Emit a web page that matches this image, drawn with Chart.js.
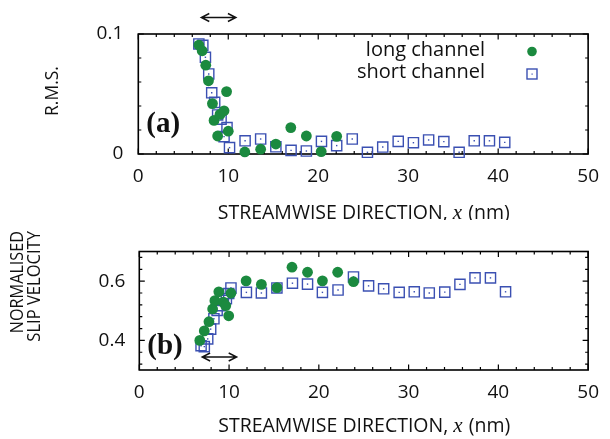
<!DOCTYPE html>
<html><head><meta charset="utf-8">
<script src="https://cdn.jsdelivr.net/npm/chart.js@4.4.1/dist/chart.umd.min.js"></script>
<style>
html,body{margin:0;padding:0;background:#fff;}
#wrap{position:relative;width:610px;height:439px;overflow:hidden;}
.pane{position:absolute;left:0;width:610px;}
canvas{display:block;}
</style></head><body>
<div id="wrap">
<div class="pane" style="top:0;height:220px"><canvas id="ca" width="610" height="220"></canvas></div>
<div class="pane" style="top:220px;height:219px"><canvas id="cb" width="610" height="219"></canvas></div>
</div>
<script>
// ---------- DATA ----------
const seriesNames = ['long channel', 'short channel'];
const xTickLabels = [0, 10, 20, 30, 40, 50];
const rmsTickLabels = [0, 0.1];
const slipTickLabels = [0.4, 0.6];
const arrowSpan = [7.0, 10.85];

// panel (a): R.M.S.
const longX_a  = [6.73, 7.10, 7.50, 7.80, 8.24, 8.42, 8.82, 9.08, 9.53, 9.81, 10.0, 11.84, 13.6, 15.29, 16.95, 18.68, 20.33, 22.05];
const longRms  = [0.0908, 0.086, 0.074, 0.061, 0.042, 0.028, 0.015, 0.033, 0.036, 0.052, 0.019, 0.0017, 0.004, 0.0083, 0.022, 0.015, 0.002, 0.0147];
const shortX_a = [6.73, 7.17, 7.46, 7.83, 8.16, 8.49, 8.82, 9.20, 9.53, 9.86, 10.14, 11.87, 13.6, 15.29, 16.98, 18.68, 20.36, 22.05, 23.78, 25.47, 27.17, 28.89, 30.58, 32.27, 33.96, 35.66, 37.34, 39.03, 40.73];
const shortRms = [0.0917, 0.0906, 0.0806, 0.0667, 0.051, 0.043, 0.0325, 0.029, 0.0145, 0.022, 0.0053, 0.011, 0.0125, 0.006, 0.003, 0.0025, 0.0105, 0.007, 0.0125, 0.0014, 0.0058, 0.0105, 0.0094, 0.0117, 0.0103, 0.0014, 0.011, 0.011, 0.0097];

// panel (b): normalised slip velocity
const longX_b   = [6.74, 7.24, 7.76, 8.17, 8.42, 8.86, 9.37, 9.63, 9.96, 10.21, 11.9, 13.6, 15.33, 17.01, 18.74, 20.4, 22.1, 23.86];
const longSlip  = [0.400, 0.432, 0.463, 0.506, 0.534, 0.564, 0.529, 0.517, 0.483, 0.559, 0.601, 0.589, 0.578, 0.647, 0.630, 0.601, 0.630, 0.598];
const shortX_b  = [6.88, 7.24, 7.62, 7.95, 8.31, 8.67, 9.05, 9.37, 9.70, 9.96, 10.21, 11.93, 13.6, 15.33, 17.06, 18.74, 20.4, 22.14, 23.86, 25.54, 27.22, 28.95, 30.63, 32.3, 34.03, 35.72, 37.4, 39.12, 40.8];
const shortSlip = [0.382, 0.379, 0.405, 0.438, 0.473, 0.501, 0.517, 0.535, 0.541, 0.558, 0.577, 0.562, 0.560, 0.577, 0.593, 0.590, 0.562, 0.570, 0.614, 0.584, 0.574, 0.562, 0.564, 0.560, 0.563, 0.589, 0.611, 0.611, 0.564];

// ---------- STYLE ----------
const GREEN = '#1b8a3f';
const BLUE = '#3b50b2';
const SANS = '"Open Sans", "Noto Sans", sans-serif';
const TICKFONT = {family: SANS, size: 19};

function pts(xs, ys){ return xs.map((x,i)=>({x:x, y:ys[i]})); }

function datasets(lx, ly, sx, sy){
  return [
    {label: seriesNames[0], data: pts(lx, ly), pointStyle:'circle', pointRadius:5.4, backgroundColor:GREEN, borderWidth:0, clip:false},
    {label: seriesNames[1], data: pts(sx, sy), pointStyle:'rect', pointRadius:7.2, backgroundColor:'rgba(0,0,0,0)', borderColor:BLUE, borderWidth:1.4, clip:false},
    {label: '_dot', data: pts(sx, sy), pointStyle:'rect', pointRadius:1.0, backgroundColor:BLUE, borderWidth:0, clip:false}
  ];
}

const framePlugin = {
  id: 'frame',
  beforeDatasetsDraw(chart, args, o){
    const {ctx, chartArea:a, scales:{x, y}} = chart;
    ctx.save();
    ctx.strokeStyle = '#000';
    ctx.lineWidth = 1.2;
    ctx.beginPath();
    for (let v = x.min; v <= x.max + 1e-9; v += o.xMinor){
      const px = x.getPixelForValue(v);
      const L = (Math.abs(v % 10) < 1e-6) ? 5.5 : 3;
      ctx.moveTo(px, a.bottom); ctx.lineTo(px, a.bottom - L);
      ctx.moveTo(px, a.top); ctx.lineTo(px, a.top + L);
    }
    for (let k = 0; ; k++){
      const v = o.yMinorStart + k*o.yMinor;
      if (v > y.max + 1e-9) break;
      const py = y.getPixelForValue(v);
      const major = o.yMajor.some(m => Math.abs(m - v) < 1e-6);
      const L = major ? 5.5 : 3;
      ctx.moveTo(a.left, py); ctx.lineTo(a.left + L, py);
      ctx.moveTo(a.right, py); ctx.lineTo(a.right - L, py);
    }
    ctx.stroke();
    ctx.lineWidth = 1.6;
    ctx.strokeRect(a.left, a.top, a.right - a.left, a.bottom - a.top);
    ctx.restore();
  }
};

function drawArrow(ctx, x1, x2, y){
  ctx.save();
  ctx.strokeStyle = '#111'; ctx.lineWidth = 1.4;
  ctx.beginPath();
  ctx.moveTo(x1, y); ctx.lineTo(x2, y);
  ctx.moveTo(x1 + 8, y - 4); ctx.lineTo(x1, y); ctx.lineTo(x1 + 8, y + 4);
  ctx.moveTo(x2 - 8, y - 4); ctx.lineTo(x2, y); ctx.lineTo(x2 - 8, y + 4);
  ctx.stroke();
  ctx.restore();
}

const textPlugin = {
  id: 'texts',
  afterDraw(chart, args, o){
    const {ctx, chartArea:a, scales:{x}} = chart;
    ctx.save();
    ctx.fillStyle = '#111';
    // x axis title with italic x
    const p1 = 'STREAMWISE DIRECTION, ', p2 = 'x', p3 = ' (nm)';
    const f1 = '19.5px ' + SANS, f2 = 'italic 21px "Liberation Serif", serif';
    ctx.font = f1; const w1 = ctx.measureText(p1).width, w3 = ctx.measureText(p3).width;
    ctx.font = f2; const w2 = ctx.measureText(p2).width;
    let sx = (a.left + a.right)/2 - (w1 + w2 + w3)/2;
    const ty = a.bottom + o.titleGap;
    ctx.textBaseline = 'alphabetic'; ctx.textAlign = 'left';
    ctx.font = f1; ctx.fillText(p1, sx, ty);
    ctx.font = f2; ctx.fillText(p2, sx + w1, ty);
    ctx.font = f1; ctx.fillText(p3, sx + w1 + w2 + 1, ty);
    // y title(s)
    ctx.font = '18px ' + SANS;
    ctx.textBaseline = 'middle';
    o.yTitle.forEach(t => {
      ctx.save();
      ctx.translate(t.x, t.y);
      ctx.rotate(-Math.PI/2);
      ctx.scale(t.sx, 1);
      ctx.textAlign = t.align;
      ctx.fillText(t.text, 0, 0);
      ctx.restore();
    });
    // panel label
    ctx.font = 'bold 29px "Liberation Serif", serif';
    ctx.textAlign = 'left'; ctx.textBaseline = 'middle';
    ctx.fillText(o.panel, a.left + 8, a.bottom - o.panelUp);
    // arrow
    drawArrow(ctx, x.getPixelForValue(arrowSpan[0]), x.getPixelForValue(arrowSpan[1]), o.arrowY(a));
    // legend
    if (o.legend){
      ctx.font = '20px ' + SANS;
      ctx.textAlign = 'right'; ctx.textBaseline = 'middle';
      ctx.fillStyle = '#111';
      ctx.fillText(seriesNames[0], 485, 50);
      ctx.fillText(seriesNames[1], 485, 72);
      ctx.fillStyle = GREEN;
      ctx.beginPath(); ctx.arc(532, 51.5, 4.8, 0, Math.PI*2); ctx.fill();
      ctx.strokeStyle = BLUE; ctx.lineWidth = 1.4;
      ctx.strokeRect(527, 69, 10, 10);
      ctx.fillStyle = BLUE; ctx.fillRect(531.5, 73.5, 1.2, 1.2);
    }
    ctx.restore();
  }
};

function makeChart(id, ds, cfg){
  return new Chart(document.getElementById(id), {
    type: 'scatter',
    data: {datasets: ds},
    plugins: [framePlugin, textPlugin],
    options: {
      responsive: false, animation: false, events: [],
      devicePixelRatio: 1,
      layout: {padding: cfg.padding},
      plugins: {
        legend: {display:false}, tooltip: {enabled:false},
        frame: cfg.frame, texts: cfg.texts
      },
      scales: {
        x: {
          type:'linear', min:0, max:50,
          grid:{display:false, drawTicks:false}, border:{display:false},
          afterBuildTicks: s => { s.ticks = xTickLabels.map(v => ({value:v})); },
          ticks:{font:TICKFONT, color:'#111', padding:cfg.xPad, maxRotation:0, callback: v => String(v)},
          afterFit: s => { s.height = cfg.xHeight; }
        },
        y: {
          type:'linear', min:cfg.ymin, max:cfg.ymax,
          grid:{display:false, drawTicks:false}, border:{display:false},
          afterBuildTicks: s => { s.ticks = cfg.yTicks.map(v => ({value:v})); },
          ticks:{font:TICKFONT, color:'#111', padding:cfg.yPad, callback: v => String(v)},
          afterFit: s => { s.width = cfg.yWidth; }
        }
      }
    }
  });
}

makeChart('ca', datasets(longX_a, longRms, shortX_a, shortRms), {
  padding: {left:0, top:34, right:18, bottom:0},
  xHeight: 66, yWidth: 138.3, xPad: 11, yPad: 15,
  ymin: 0, ymax: 0.1, yTicks: rmsTickLabels,
  frame: {xMinor: 2, yMinorStart: 0, yMinor: 0.02, yMajor: rmsTickLabels},
  texts: {titleGap: 65, panel: '(a)', panelUp: 29,
          arrowY: a => a.top - 16.5,
          yTitle: [{text:'R.M.S.', x:53, y:91, align:'center', sx:0.97}],
          legend: true}
});

makeChart('cb', datasets(longX_b, longSlip, shortX_b, shortSlip), {
  padding: {left:0, top:31.5, right:15, bottom:0},
  xHeight: 69, yWidth: 139.3, xPad: 11, yPad: 14,
  ymin: 0.3, ymax: 0.7, yTicks: slipTickLabels,
  frame: {xMinor: 2, yMinorStart: 0.32, yMinor: 0.04, yMajor: slipTickLabels},
  texts: {titleGap: 62, panel: '(b)', panelUp: 23,
          arrowY: a => a.bottom - 13,
          yTitle: [{text:'NORMALISED', x:17.5, y:11, align:'right', sx:0.9},
                   {text:'SLIP VELOCITY', x:35, y:11, align:'right', sx:0.92}],
          legend: false}
});
</script>
</body></html>
